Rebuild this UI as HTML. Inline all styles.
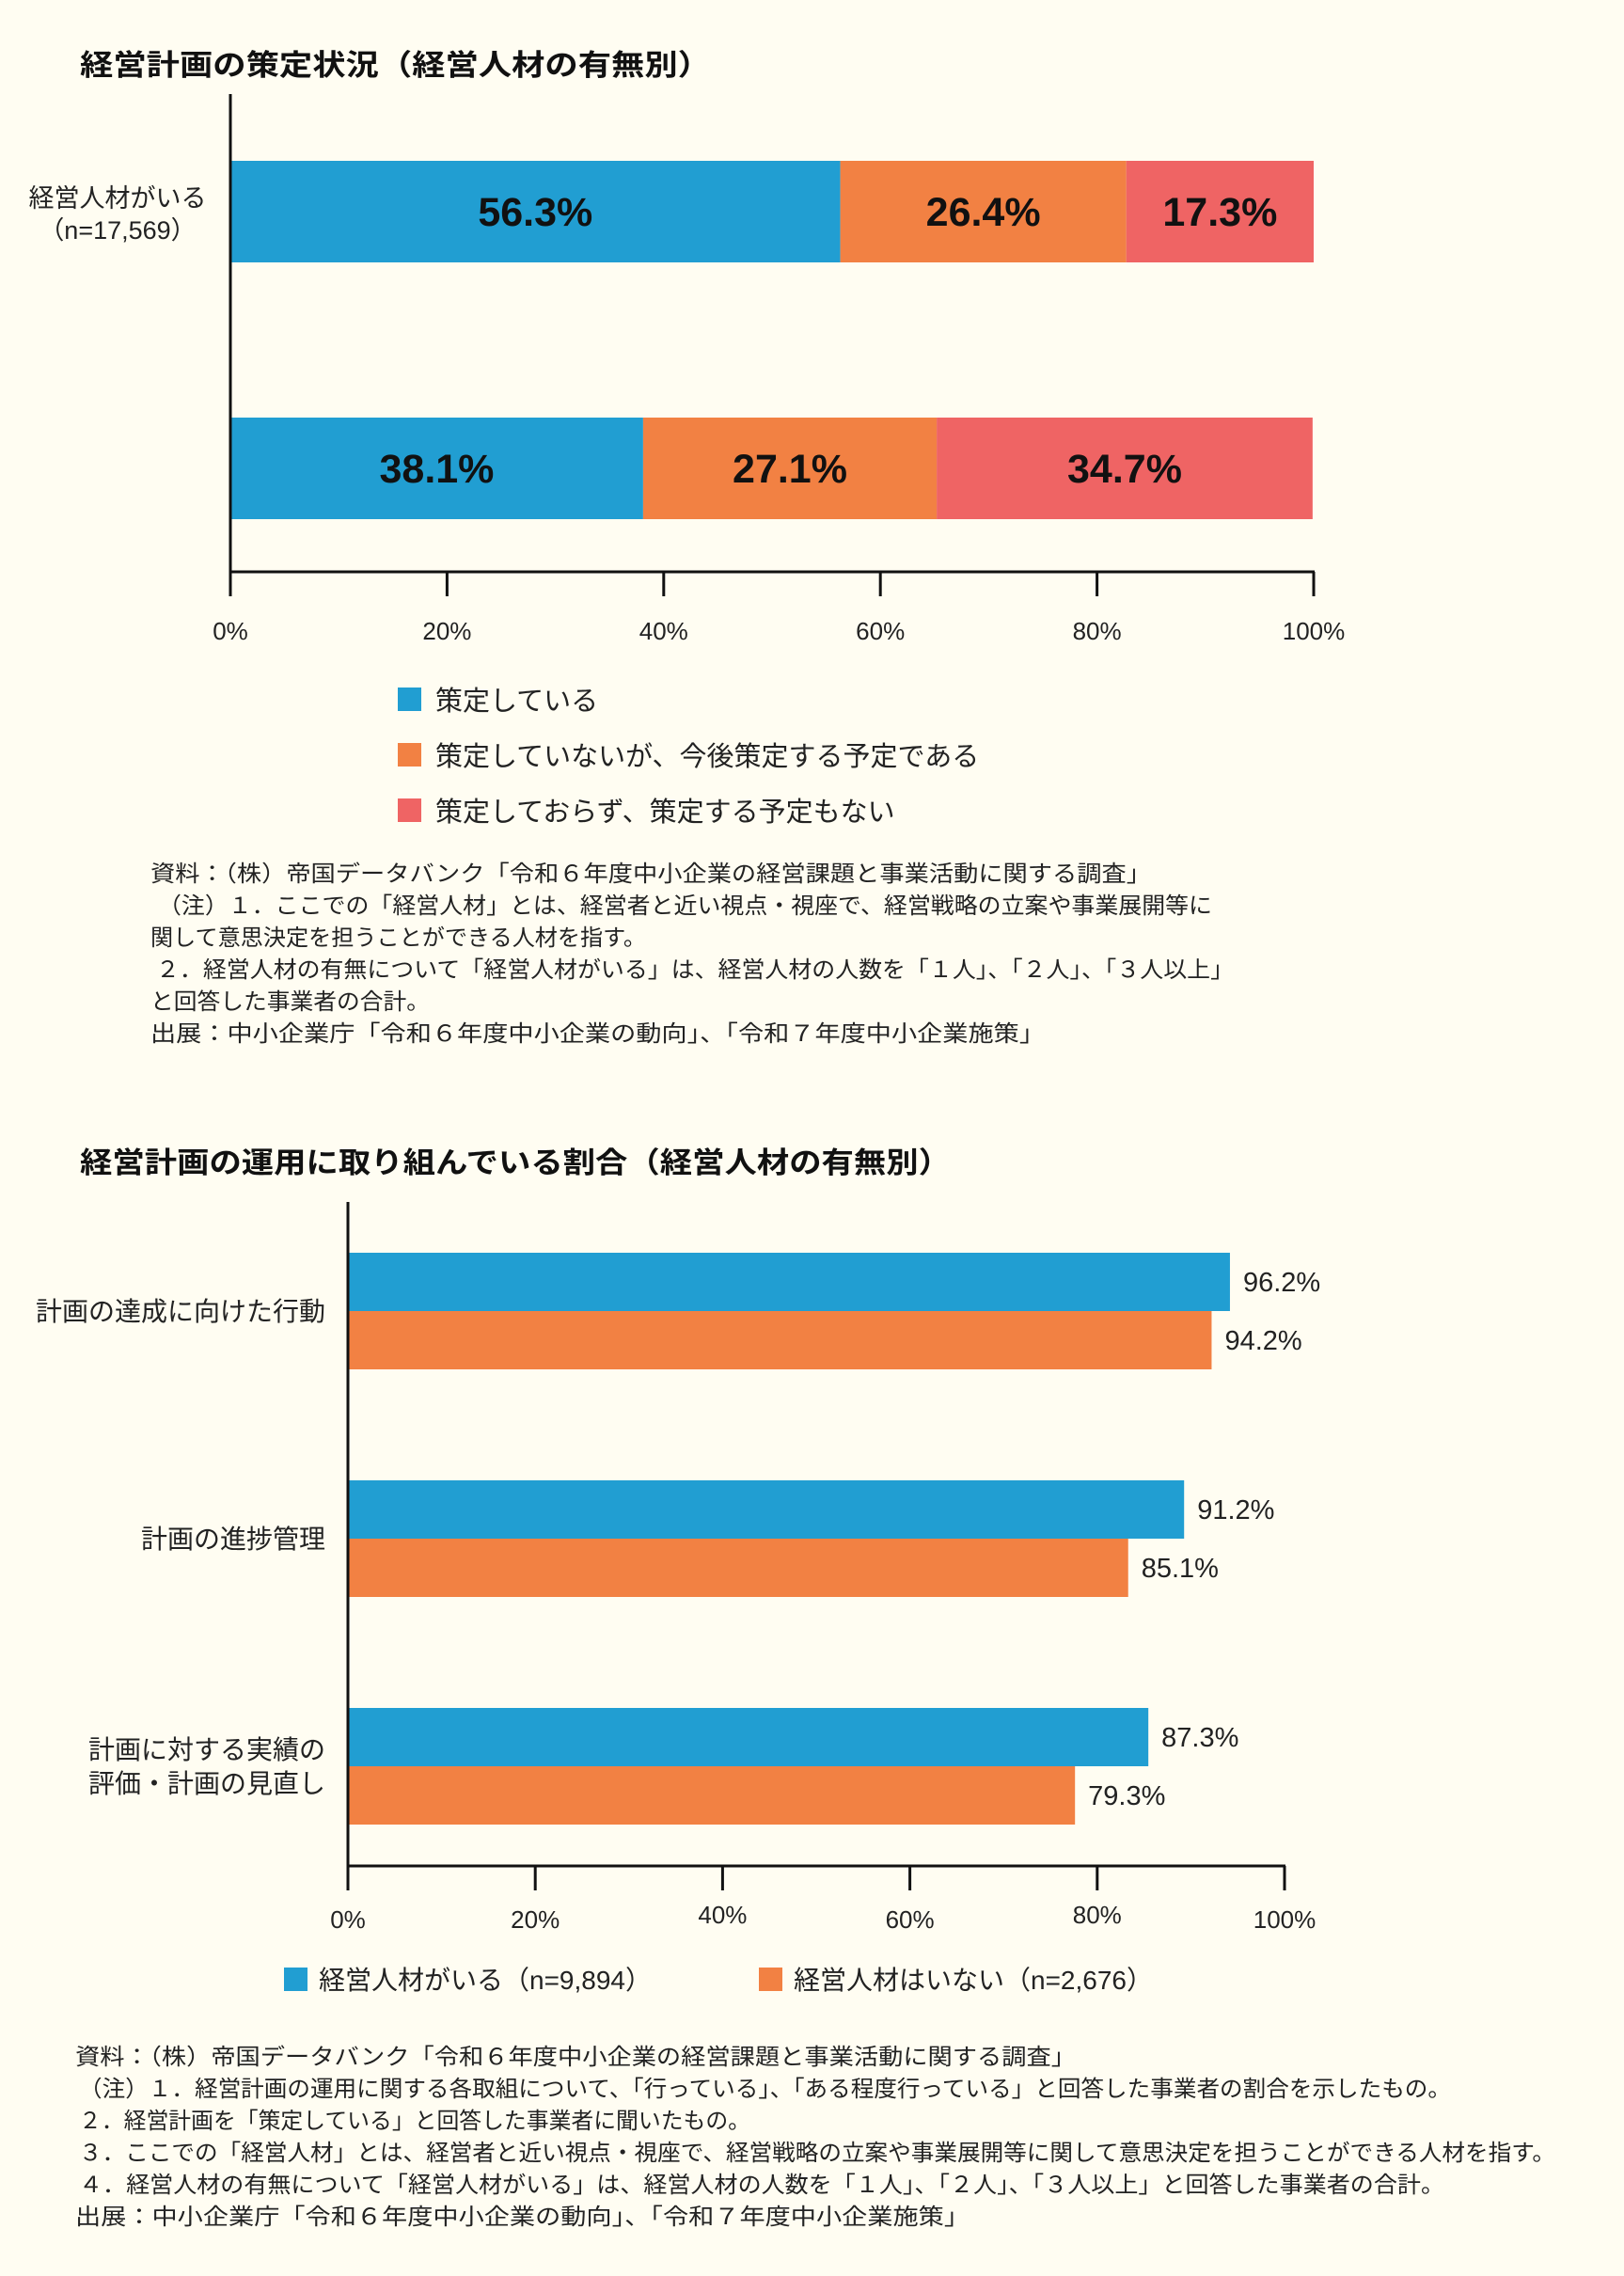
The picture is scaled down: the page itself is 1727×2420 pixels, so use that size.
<!DOCTYPE html>
<html><head><meta charset="utf-8">
<style>
html,body{margin:0;padding:0;background:#fffdf2;}
svg{display:block;font-family:"Liberation Sans","Noto Sans CJK JP",sans-serif;}
</style></head>
<body>
<svg id="svg" width="1727" height="2420" viewBox="0 0 1727 2420" xmlns="http://www.w3.org/2000/svg">
<rect width="1727" height="2420" fill="#fffdf2"/>
<text x="85" y="80" font-size="31" font-weight="bold" fill="#111" textLength="671" lengthAdjust="spacingAndGlyphs">経営計画の策定状況（経営人材の有無別）</text>
<g id="c1"></g>
<g font-size="24" fill="#222" lengthAdjust="spacingAndGlyphs">
<text x="160" y="937" textLength="1064" lengthAdjust="spacingAndGlyphs">資料：（株）帝国データバンク「令和６年度中小企業の経営課題と事業活動に関する調査」</text>
<text x="168" y="971" textLength="1121" lengthAdjust="spacingAndGlyphs">（注）１．ここでの「経営人材」とは、経営者と近い視点・視座で、経営戦略の立案や事業展開等に</text>
<text x="160" y="1005" textLength="527" lengthAdjust="spacingAndGlyphs">関して意思決定を担うことができる人材を指す。</text>
<text x="166" y="1039" textLength="1146" lengthAdjust="spacingAndGlyphs">２．経営人材の有無について「経営人材がいる」は、経営人材の人数を「１人」、「２人」、「３人以上」</text>
<text x="160" y="1073" textLength="297" lengthAdjust="spacingAndGlyphs">と回答した事業者の合計。</text>
<text x="160" y="1107" textLength="951" lengthAdjust="spacingAndGlyphs">出展：中小企業庁「令和６年度中小企業の動向」、「令和７年度中小企業施策」</text>
</g>
<text x="85" y="1247" font-size="31" font-weight="bold" fill="#111" textLength="926" lengthAdjust="spacingAndGlyphs">経営計画の運用に取り組んでいる割合（経営人材の有無別）</text>
<g id="c2"></g>
<g font-size="24" fill="#222">
<text x="80" y="2195" textLength="1064" lengthAdjust="spacingAndGlyphs">資料：（株）帝国データバンク「令和６年度中小企業の経営課題と事業活動に関する調査」</text>
<text x="84" y="2229" textLength="1459" lengthAdjust="spacingAndGlyphs">（注）１．経営計画の運用に関する各取組について、「行っている」、「ある程度行っている」と回答した事業者の割合を示したもの。</text>
<text x="84" y="2263" textLength="714" lengthAdjust="spacingAndGlyphs">２．経営計画を「策定している」と回答した事業者に聞いたもの。</text>
<text x="84" y="2297" textLength="1570" lengthAdjust="spacingAndGlyphs">３．ここでの「経営人材」とは、経営者と近い視点・視座で、経営戦略の立案や事業展開等に関して意思決定を担うことができる人材を指す。</text>
<text x="84" y="2331" textLength="1452" lengthAdjust="spacingAndGlyphs">４．経営人材の有無について「経営人材がいる」は、経営人材の人数を「１人」、「２人」、「３人以上」と回答した事業者の合計。</text>
<text x="80" y="2365" textLength="951" lengthAdjust="spacingAndGlyphs">出展：中小企業庁「令和６年度中小企業の動向」、「令和７年度中小企業施策」</text>
</g>
</svg>
<script>
const NS="http://www.w3.org/2000/svg";
// Chart 1 data
const c1Rows=["経営人材がいる（n=17,569）",""];
const c1Planned=[56.3,38.1];
const c1Future=[26.4,27.1];
const c1None=[17.3,34.7];
const c1Ticks=[0,20,40,60,80,100];
const c1Legend=["策定している","策定していないが、今後策定する予定である","策定しておらず、策定する予定もない"];
// Chart 2 data
const c2Cats=[["計画の達成に向けた行動"],["計画の進捗管理"],["計画に対する実績の","評価・計画の見直し"]];
const c2With=[96.2,91.2,87.3];
const c2Without=[94.2,85.1,79.3];
const c2Ticks=[0,20,40,60,80,100];
const c2Legend=["経営人材がいる（n=9,894）","経営人材はいない（n=2,676）"];
const COLORS=["#219ed2","#f28143","#ef6464"];

function mk(parent,tag,attrs,txt){const e=document.createElementNS(NS,tag);for(const k in attrs)e.setAttribute(k,attrs[k]);if(txt!==undefined)e.textContent=txt;parent.appendChild(e);return e;}

// ---- chart 1 ----
const g1=document.getElementById('c1');
const x1=v=>245+v/100*1152;
const rowTop=[171,444], rowH=108;
c1Rows.forEach((r,i)=>{
  const segs=[c1Planned[i],c1Future[i],c1None[i]];
  let acc=0;
  segs.forEach((v,j)=>{
    const rc=mk(g1,'rect',{x:x1(acc),y:rowTop[i],width:x1(acc+v)-x1(acc),height:rowH,fill:COLORS[j]});
    
    
    const t=mk(g1,'text',{x:(x1(acc)+x1(acc+v))/2,y:rowTop[i]+rowH/2+15,'font-size':43,'font-weight':'bold','text-anchor':'middle',fill:'#111'},v.toFixed(1)+'%');
    
    
    acc+=v;
  });
});
const cl=mk(g1,'text',{x:125,y:220,'font-size':27,'text-anchor':'middle',fill:'#222'},'経営人材がいる');


const cl2=mk(g1,'text',{x:125,y:254,'font-size':27,'text-anchor':'middle',fill:'#222'},'（n=17,569）');


let a=mk(g1,'line',{x1:245,y1:100,x2:245,y2:608,stroke:'#111','stroke-width':3});

a=mk(g1,'line',{x1:244,y1:608,x2:1398,y2:608,stroke:'#111','stroke-width':3});

c1Ticks.forEach(v=>{
  const tk=mk(g1,'line',{x1:x1(v),y1:608,x2:x1(v),y2:634,stroke:'#111','stroke-width':3});
  
  
  const tl=mk(g1,'text',{x:x1(v),y:680,'font-size':26,'text-anchor':'middle',fill:'#222'},v+'%');
  
  
});
c1Legend.forEach((s,i)=>{
  const y=744+i*59;
  const sq=mk(g1,'rect',{x:423,y:y-13,width:25,height:25,fill:COLORS[i]});
  
  
  const tx=mk(g1,'text',{x:463,y:y+11,'font-size':29,fill:'#222'},s);
  
  
});

// ---- chart 2 ----
const g2=document.getElementById('c2');
const x2=v=>370+v/100*975;      // bar scale
const xt=v=>370+v/100*996;      // tick positions
const gTop=[1332,1574,1816], bh=62;
c2Cats.forEach((c,i)=>{
  [[c2With[i],COLORS[0],0],[c2Without[i],COLORS[1],1]].forEach(([v,col,k])=>{
    const y=gTop[i]+k*bh;
    const r=mk(g2,'rect',{x:370,y:y,width:x2(v)-370,height:bh,fill:col});
    
    
    const t=mk(g2,'text',{x:x2(v)+14,y:y+bh/2+10,'font-size':29,fill:'#222'},v.toFixed(1)+'%');
    
    
  });
  const cy=gTop[i]+bh;
  c.forEach((line,j)=>{
    const t=mk(g2,'text',{x:346,y:cy+10+(j-(c.length-1)/2)*36,'font-size':28,'text-anchor':'end',fill:'#222'},line);
    
    
  });
});
a=mk(g2,'line',{x1:370,y1:1278,x2:370,y2:1984,stroke:'#111','stroke-width':3});

a=mk(g2,'line',{x1:369,y1:1984,x2:1367,y2:1984,stroke:'#111','stroke-width':3});

c2Ticks.forEach((v,i)=>{
  const tk=mk(g2,'line',{x1:xt(v),y1:1984,x2:xt(v),y2:2010,stroke:'#111','stroke-width':3});
  
  
  const tl=mk(g2,'text',{x:xt(v),y:(v===40||v===80)?2045:2050,'font-size':26,'text-anchor':'middle',fill:'#222'},v+'%');
  
  
});
c2Legend.forEach((s,i)=>{
  const x=i?807:302;
  const sq=mk(g2,'rect',{x:x,y:2092,width:25,height:25,fill:COLORS[i]});
  
  
  const tx=mk(g2,'text',{x:x+37,y:2115,'font-size':28,fill:'#222'},s);
  
  
});
</script>
</body></html>
